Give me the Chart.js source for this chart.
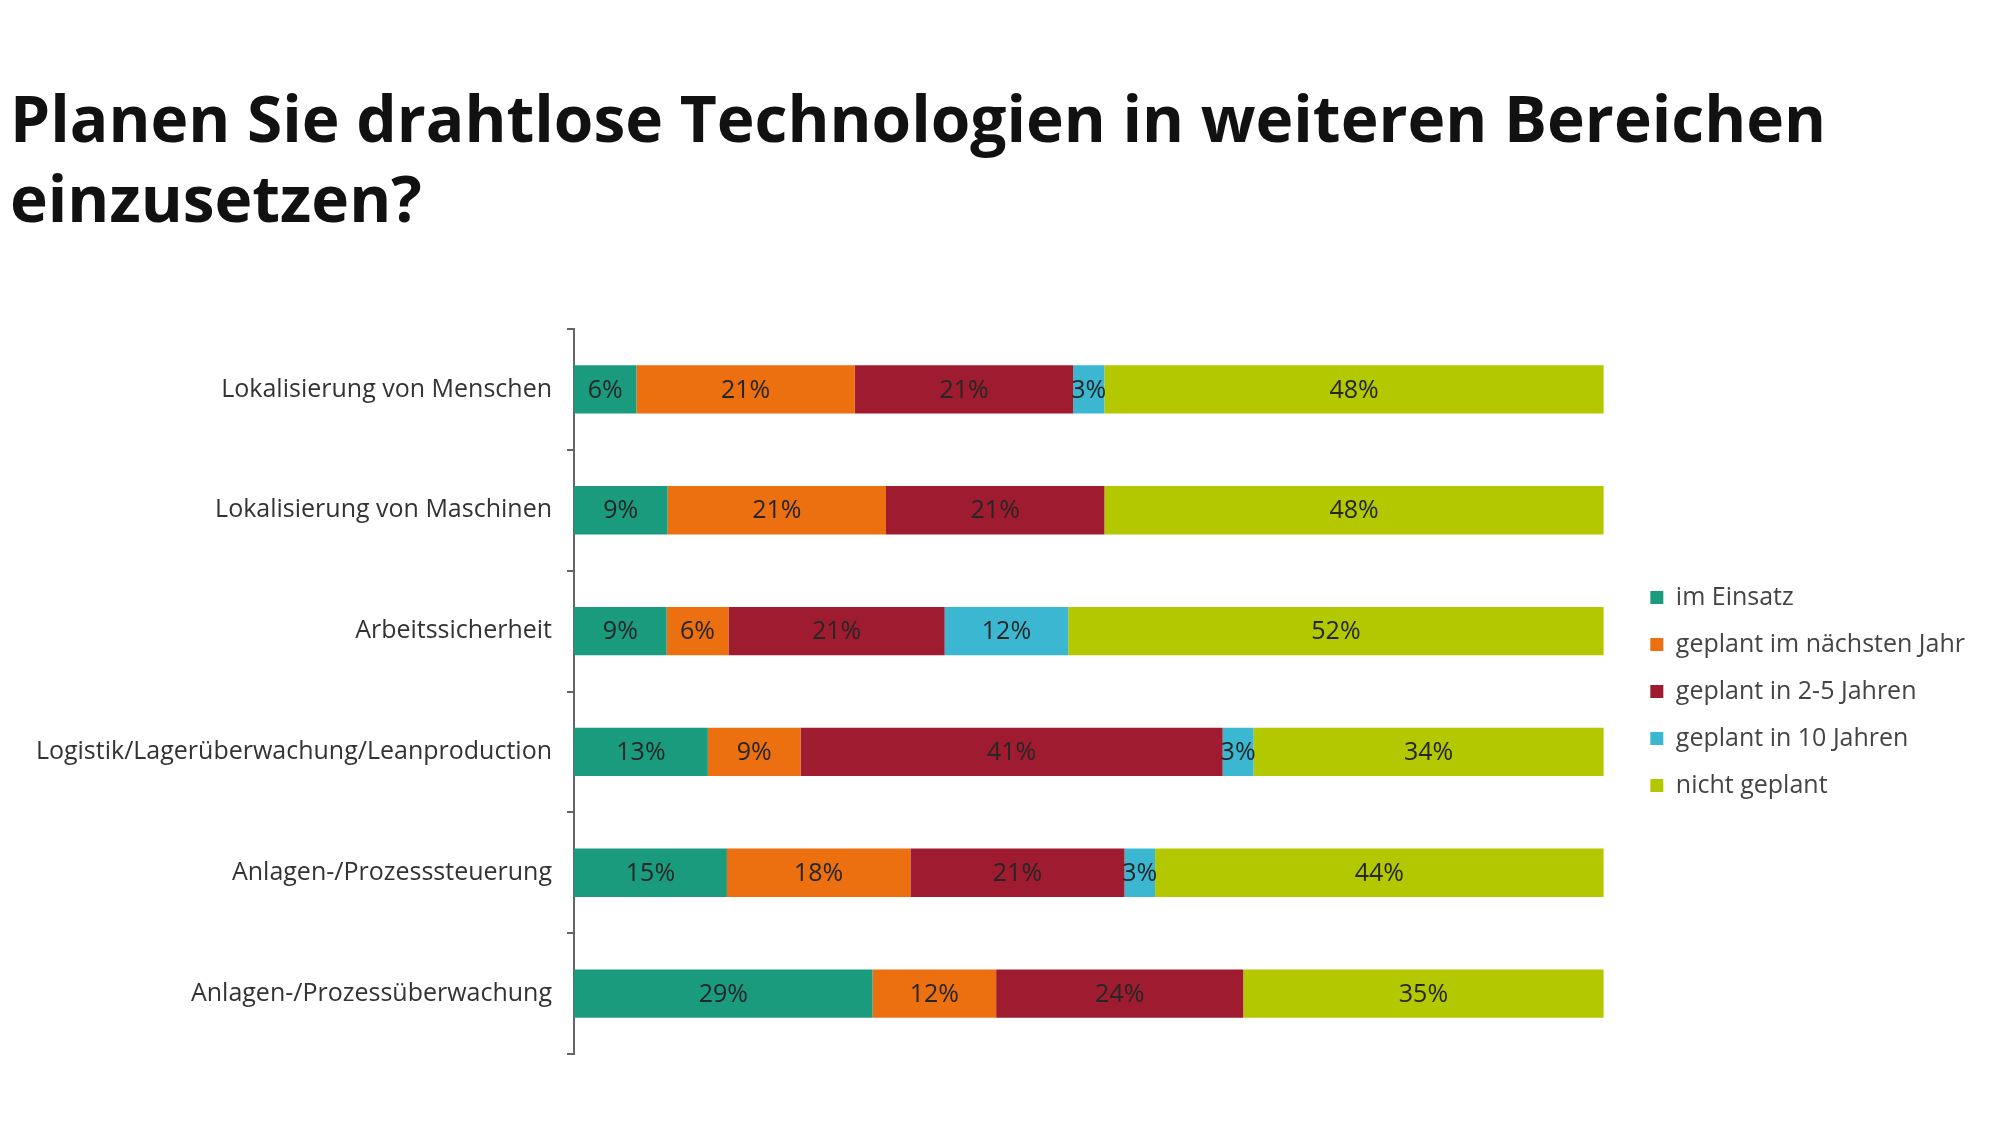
<!DOCTYPE html>
<html>
<head>
<meta charset="utf-8">
<script src="https://cdn.jsdelivr.net/npm/chart.js@4.4.1/dist/chart.umd.min.js"></script>
<style>
  html, body { margin: 0; padding: 0; background: #fff; }
  canvas { display: block; }
</style>
</head>
<body>
<canvas id="chart" width="2000" height="1124"></canvas>
<script>
const categories = [
    "Lokalisierung von Menschen",
    "Lokalisierung von Maschinen",
    "Arbeitssicherheit",
    "Logistik/Lagerüberwachung/Leanproduction",
    "Anlagen-/Prozesssteuerung",
    "Anlagen-/Prozessüberwachung",
];
const seriesNames = [
    "im Einsatz",
    "geplant im nächsten Jahr",
    "geplant in 2-5 Jahren",
    "geplant in 10 Jahren",
    "nicht geplant",
];
const imEinsatz = [6, 9, 9, 13, 15, 29];
const naechstesJahr = [21, 21, 6, 9, 18, 12];
const in2bis5Jahren = [21, 21, 21, 41, 21, 24];
const in10Jahren = [3, 0, 12, 3, 3, 0];
const nichtGeplant = [48, 48, 52, 34, 44, 35];
const colors = ["#1b9b7e", "#ec6f10", "#9f1b2f", "#3bb7d2", "#b4c800"];

const allSeries = [imEinsatz, naechstesJahr, in2bis5Jahren, in10Jahren, nichtGeplant];

// rounded percentages don't always add up to 100, bars are drawn full width
const rowTotals = categories.map((c, i) =>
    allSeries.reduce((sum, s) => sum + s[i], 0)
);

const datasets = allSeries.map((values, k) => ({
    label: seriesNames[k],
    data: values.map((v, i) => (v / rowTotals[i]) * 100),
    raw: values,
    backgroundColor: colors[k],
    borderWidth: 0,
    categoryPercentage: 1,
    barPercentage: 0.4,
}));

const FONT = "'Open Sans', 'Noto Sans', sans-serif";

const segmentLabels = {
    id: "segmentLabels",
    afterDatasetsDraw(chart) {
        const ctx = chart.ctx;
        ctx.save();
        ctx.font = "25px " + FONT;
        ctx.fillStyle = "#262626";
        ctx.textAlign = "center";
        ctx.textBaseline = "middle";
        chart.data.datasets.forEach((ds, k) => {
            const meta = chart.getDatasetMeta(k);
            meta.data.forEach((bar, i) => {
                const v = ds.raw[i];
                if (!v) return;
                const { x, base, y } = bar.getProps(["x", "base", "y"], true);
                ctx.fillText(v + "%", (x + base) / 2, y + 1);
            });
        });
        ctx.restore();
    },
};

new Chart(document.getElementById("chart"), {
    type: "bar",
    data: { labels: categories, datasets: datasets },
    plugins: [segmentLabels],
    options: {
        indexAxis: "y",
        responsive: false,
        animation: false,
        layout: { padding: { left: 10, right: 25, top: 0, bottom: 70 } },
        scales: {
            x: {
                stacked: true,
                min: 0,
                max: 102.4, // a bit of room between the bars and the legend
                display: false,
            },
            y: {
                stacked: true,
                offset: true,
                afterFit: (axis) => {
                    axis.width = 564;
                },
                grid: {
                    offset: true,
                    drawOnChartArea: false,
                    drawTicks: true,
                    tickLength: 7,
                    color: "#666",
                    lineWidth: 2,
                },
                border: { display: true, color: "#666", width: 2 },
                ticks: {
                    padding: 15,
                    color: "#333",
                    font: { family: FONT, size: 25 },
                },
            },
        },
        plugins: {
            title: {
                display: true,
                text: [
                    "Planen Sie drahtlose Technologien in weiteren Bereichen",
                    "einzusetzen?",
                ],
                align: "start",
                color: "#111",
                font: { family: FONT, size: 64, weight: "bold", lineHeight: 1.25 },
                padding: { top: 84, bottom: 85 },
            },
            legend: {
                position: "right",
                align: "center",
                fullSize: false,
                labels: {
                    boxWidth: 13,
                    boxHeight: 13,
                    padding: 22,
                    color: "#444",
                    font: { family: FONT, size: 25 },
                },
            },
            tooltip: { enabled: false },
        },
    },
});
</script>
</body>
</html>
